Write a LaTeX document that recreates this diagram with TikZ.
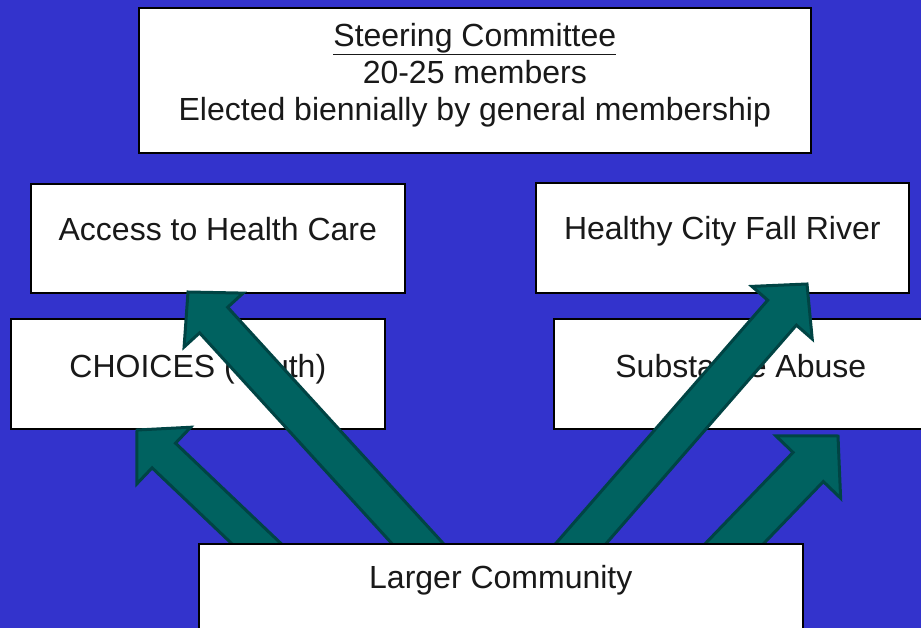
\documentclass[tikz,border=0pt]{standalone}
\usepackage{fontspec}
\setmainfont{Liberation Sans}
\usetikzlibrary{calc}

\definecolor{slideblue}{RGB}{51,51,204}
\definecolor{arrowfill}{RGB}{0,98,96}
\definecolor{arrowline}{RGB}{0,68,68}

\tikzset{
  box/.style={draw=black, line width=1.6pt, fill=white, rectangle, inner sep=0pt, anchor=north west},
  lbl/.style={font=\fontsize{32}{37}\selectfont, text=black!90, inner sep=0pt, anchor=base, align=center},
  blockarrow/.style={fill=arrowfill, draw=arrowline, line width=3pt, line join=miter}
}

% Block arrow: #1 start, #2 tip, #3 shaft half width, #4 head half width, #5 head length
\newcommand\blockarrow[5]{%
  \path ($(#2)!#5!(#1)$) coordinate (hb);
  \draw[blockarrow]
    ($(#1)!#3!90:(#2)$) -- ($(hb)!#3!-90:(#1)$) -- ($(hb)!#4!-90:(#1)$) -- (#2)
    -- ($(hb)!#4!90:(#1)$) -- ($(hb)!#3!90:(#1)$) -- ($(#1)!#3!-90:(#2)$) -- cycle;
}

\begin{document}
\begin{tikzpicture}[x=1pt, y=-1pt]
  \useasboundingbox (0,0) rectangle (921,628);
  \clip (0,0) rectangle (921,628);
  \fill[slideblue] (0,0) rectangle (921,628);

  % committee and task-force boxes
  \node[box, minimum width=672pt, minimum height=145pt] (steer) at (138,7) {};
  \node[lbl, anchor=north] (steerT) at ($(steer.north)+(0,16)$) {\underline{Steering Committee}\\20-25 members\\Elected biennially by general membership};

  \node[box, minimum width=374pt, minimum height=109pt] (access) at (30,183) {};
  \node[lbl] (accessT) at ($(access.north)+(0,58)$) {Access to Health Care};

  \node[box, minimum width=373pt, minimum height=110pt] (healthy) at (535,182) {};
  \node[lbl] (healthyT) at ($(healthy.north)+(0,58)$) {Healthy City Fall River};

  \node[box, minimum width=374pt, minimum height=110pt] (choices) at (10,318) {};
  \node[lbl] (choicesT) at ($(choices.north)+(0,59)$) {CHOICES (Youth)};

  \node[box, minimum width=374pt, minimum height=110pt] (subst) at (553,318) {};
  \node[lbl] (substT) at ($(subst.north)+(0,59)$) {Substance Abuse};

  % arrows rising from the larger community
  \coordinate (s1) at (460,590); \coordinate (t1) at (188,292);
  \coordinate (s2) at (302,587); \coordinate (t2) at (137,430);
  \coordinate (s3) at (537,594); \coordinate (t3) at (807,284);
  \coordinate (s4) at (685,595); \coordinate (t4) at (838,436);
  \blockarrow{s1}{t1}{19pt}{40pt}{38pt}
  \blockarrow{s2}{t2}{17pt}{39pt}{37pt}
  \blockarrow{s3}{t3}{19pt}{40pt}{38pt}
  \blockarrow{s4}{t4}{21pt}{45pt}{43pt}

  % base box
  \node[box, minimum width=604pt, minimum height=110pt] (larger) at (198,543) {};
  \node[lbl] (largerT) at ($(larger.north)+(0,45)$) {Larger Community};
\end{tikzpicture}
\end{document}
